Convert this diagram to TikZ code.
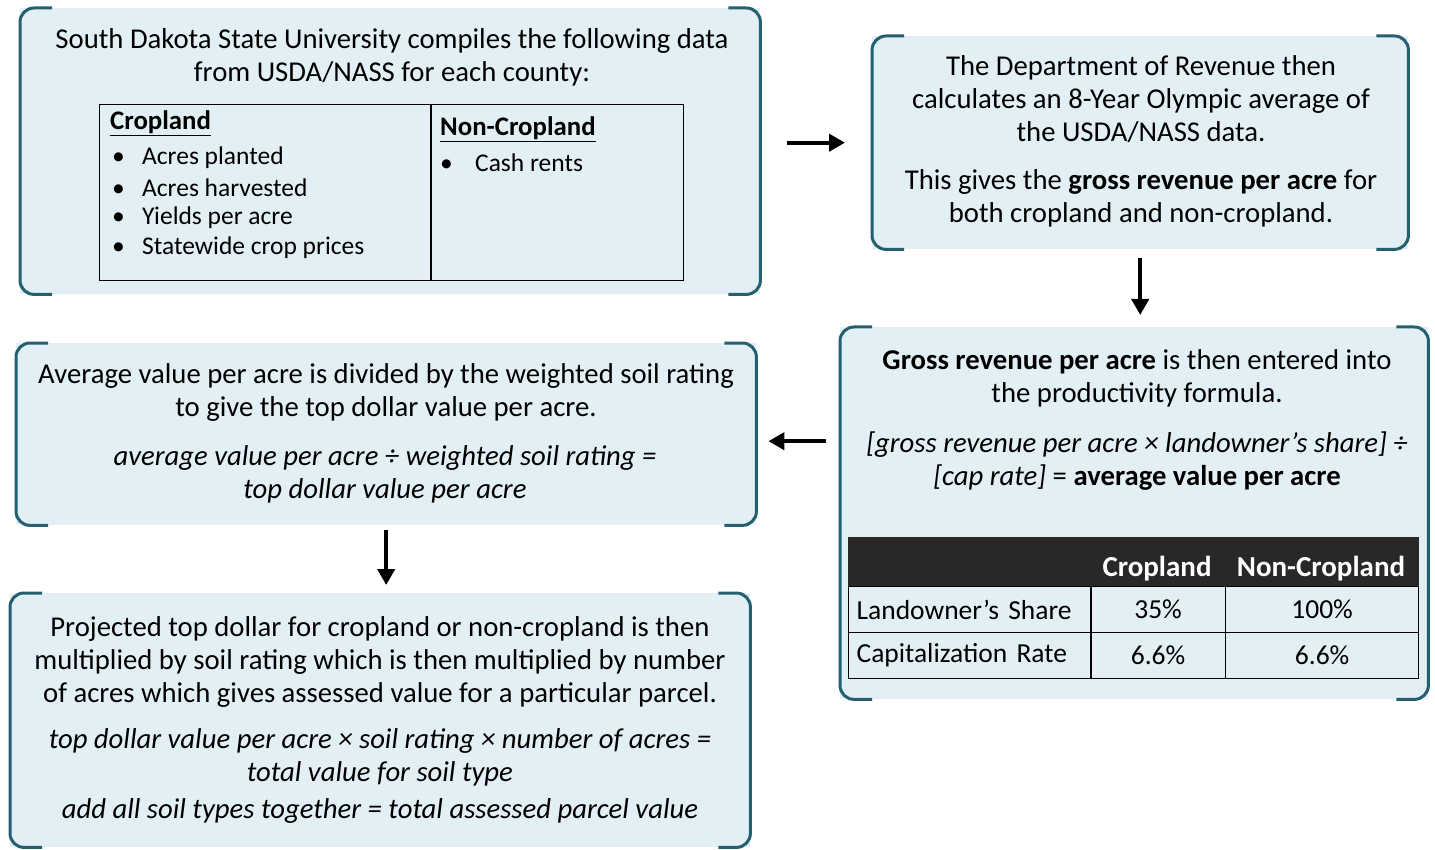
\documentclass[tikz,border=0pt]{standalone}
\usepackage{fontspec}
\setmainfont{Carlito}
\usetikzlibrary{arrows.meta,positioning}

\definecolor{panelfill}{RGB}{226,239,244}
\definecolor{panelrule}{RGB}{38,96,112}
\definecolor{headdark}{RGB}{40,40,40}

\newcommand{\bodyfont}{\fontsize{28.7}{33}\selectfont}
\newcommand{\listfont}{\fontsize{25.5}{30}\selectfont}
\newcommand{\tabfont}{\fontsize{27.5}{33}\selectfont}

\begin{document}
\begin{tikzpicture}[x=1pt, y=-1pt,
	panel/.style={fill=panelfill, anchor=north west, inner sep=0},
	bracket/.style={draw=panelrule, line width=3pt, rounded corners=14pt},
	para/.style={align=center, font=\bodyfont, inner sep=0},
	item/.style={anchor=west, font=\listfont, inner sep=0},
	cell/.style={draw, line width=1.2pt, anchor=north west, inner sep=0},
	flow/.style={line width=4pt, -{Triangle[length=16pt,width=17pt]}}]
	\useasboundingbox (0,0) rectangle (1435,850);
	% panels
	\node[panel, minimum width=740pt, minimum height=286pt] (sdsu)  at (20,8)   {};
	\node[panel, minimum width=536pt, minimum height=213pt] (dor)   at (872,36) {};
	\node[panel, minimum width=588pt, minimum height=372pt] (gross) at (840,327) {};
	\node[panel, minimum width=740pt, minimum height=182pt] (avg)   at (16,343) {};
	\node[panel, minimum width=740pt, minimum height=254pt] (proj)  at (10,593) {};
	\foreach \p in {sdsu,dor,gross,avg,proj} {
		\draw[bracket] ([xshift=32pt]\p.north west) -- (\p.north west) -- (\p.south west) -- ([xshift=32pt]\p.south west);
		\draw[bracket] ([xshift=-32pt]\p.north east) -- (\p.north east) -- (\p.south east) -- ([xshift=-32pt]\p.south east);
	}

	% first panel: data table
	\node[para] (sdsu-txt) at (392,57) {South Dakota State University compiles the following data\\from USDA/NASS for each county:};
	\node[cell, minimum width=331pt, minimum height=176pt] (crop) at (99,104) {};
	\node[cell, minimum width=252pt, minimum height=176pt] (noncrop) at (crop.north east) {};
	\node[item, font=\fontsize{26.8}{30}\selectfont\bfseries] (crop-head) at (110,123) {\underline{Cropland}};
	\foreach \txt [count=\i] in {Acres planted, Acres harvested, Yields per acre, Statewide crop prices}
		\node[item] (crop-\i) at (112,128+30*\i) {\makebox[30pt][l]{•}\txt};
	\node[item, font=\fontsize{26.8}{30}\selectfont\bfseries] (noncrop-head) at (440,129) {\underline{Non-Cropland}};
	\node[item] (noncrop-1) at (440,163) {\makebox[35pt][l]{•}Cash rents};

	% second panel
	\node[para] (dor-p1) at (1141,99) {The Department of Revenue then\\calculates an 8-Year Olympic average of\\the USDA/NASS data.};
	\node[para] (dor-p2) at (1141,198) {This gives the \textbf{gross revenue per acre} for\\both cropland and non-cropland.};

	% third panel: formula and rates
	\node[para] (gross-p1) at (1137,378) {\textbf{Gross revenue per acre} is then entered into\\the productivity formula.};
	\node[para] (gross-p2) at (1137,461) {\textit{[gross revenue per acre × landowner’s share] ÷}\\\textit{[cap rate]} = \textbf{average value per acre}};
	\node[cell, fill=headdark, draw=headdark, minimum width=570pt, minimum height=49pt] (head) at (848,537) {};
	\node[font=\fontsize{29}{33}\selectfont\bfseries, text=white] (head-crop) at (1157,569) {Cropland};
	\node[font=\fontsize{29}{33}\selectfont\bfseries, text=white] (head-non) at (1321,569) {Non-Cropland};
	\foreach \r/\y/\lab/\a/\b in {share/586/Landowner’s Share/35\%/100\%, cap/632/Capitalization Rate/6.6\%/6.6\%} {
		\node[cell, minimum height=46pt, text width=227pt, inner xsep=8pt, align=left, font=\tabfont] (\r-lab) at (848,\y) {\lab};
		\node[cell, minimum height=46pt, minimum width=135pt, font=\tabfont] (\r-crop) at (1090,\y) {\a};
		\node[cell, minimum height=46pt, minimum width=193pt, font=\tabfont] (\r-non) at (1225,\y) {\b};
	}

	% fourth panel
	\node[para] (avg-p1) at (386,393) {Average value per acre is divided by the weighted soil rating\\to give the top dollar value per acre.};
	\node[para, font=\bodyfont\itshape] (avg-p2) at (385,474) {average value per acre ÷ weighted soil rating =\\top dollar value per acre};

	% fifth panel
	\node[para] (proj-p1) at (380,662) {Projected top dollar for cropland or non-cropland is then\\multiplied by soil rating which is then multiplied by number\\of acres which gives assessed value for a particular parcel.};
	\node[para, font=\bodyfont\itshape] (proj-p2) at (380,776) {top dollar value per acre × soil rating × number of acres =\\total value for soil type\\[4pt]add all soil types together = total assessed parcel value};

	% arrows
	\draw[flow, shorten <=27pt, shorten >=27pt] (sdsu.east |- dor.west) -- (dor.west);
	\draw[flow, shorten <=9pt, shorten >=12pt] (dor.south) -- (dor.south |- gross.north);
	\draw[flow, shorten <=14pt, shorten >=12pt] ([yshift=-7pt]gross.west |- avg.east) -- ([yshift=-7pt]avg.east);
	\draw[flow, shorten <=5pt, shorten >=8pt] (avg.south) -- (avg.south |- proj.north);
\end{tikzpicture}
\end{document}
